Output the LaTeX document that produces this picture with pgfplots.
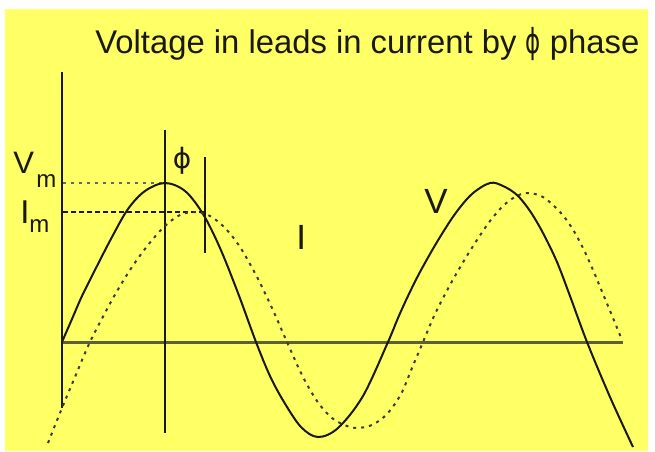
\documentclass[border=0pt]{standalone}
\usepackage{fontspec}
\setmainfont{Liberation Sans}
\newfontfamily\phifont{DejaVu Sans}
\usepackage{pgfplots}
\pgfplotsset{compat=1.18}
\definecolor{bgyellow}{RGB}{255,255,102}
\definecolor{axisol}{RGB}{95,95,55}
\definecolor{curvec}{RGB}{25,25,15}
\definecolor{dotc}{RGB}{60,60,40}
\begin{document}
\begin{tikzpicture}
\begin{axis}[x=0.5pt,y=0.5pt,xmin=0,xmax=655,ymin=0,ymax=451,y dir=reverse,
  hide axis,clip=false]
% white page and yellow panel
\addplot[fill=white,draw=none] coordinates {(0,0) (655,0) (655,451) (0,451)} -- cycle;
\addplot[fill=bgyellow,draw=none] coordinates {(5,9) (648,9) (648,451) (5,451)} -- cycle;
% axes
\addplot[axisol,line width=1.4pt] coordinates {(62,342.5) (623,342.5)};
\addplot[curvec,line width=0.9pt] coordinates {(62,72) (62,408)};
\addplot[curvec,line width=0.9pt] coordinates {(165,130) (165,433)};
\addplot[curvec,line width=0.9pt] coordinates {(205,157) (205,253)};
% reference lines
\addplot[gray!80!black,line width=1pt,dash pattern=on 1.5pt off 2.5pt] coordinates {(63,183) (165,183)};
\addplot[curvec,line width=0.8pt,dash pattern=on 2.5pt off 1.5pt] coordinates {(63,212) (205,212)};
% V (solid)
\addplot[curvec,line width=1pt,smooth,tension=0.55] coordinates {
(62,342) (72,319) (82,296) (97,266) (112,237) (128,209) (145,191) (165,183)
(185,191) (203,214) (220,248) (238,293) (256,342) (270,376) (284,402) (301,427)
(318,437) (338,428) (363,396) (388,342) (398,318) (408,296) (420,272) (437,242)
(455,214) (472,194) (490,183) (503,186) (517,195) (530,211) (543,233) (557,262)
(570,296) (587,342) (610,397) (633,447)};
% I (dotted)
\addplot[dotc,line width=1pt,smooth,tension=0.55,dash pattern=on 1.5pt off 2.5pt] coordinates {
(48,443) (62,408) (75,377) (90,342) (112,300) (130,270) (148,245) (165,226)
(180,215) (195,212) (210,216) (225,228) (240,247) (257,277) (272,308) (287,342)
(302,375) (317,401) (332,418) (347,426) (357,428) (372,425) (387,414) (401,394)
(412,368) (423,342) (435,314) (450,285) (465,259) (477,240) (490,221) (503,206)
(515,197) (527,193) (543,197) (560,212) (572,228) (583,248) (593,270) (603,294)
(613,318) (622,340)};
% texts
\node[anchor=base west,inner sep=0,text=curvec,font=\fontsize{16.4}{18}\selectfont] at (axis cs:95,53) {Voltage in leads in current by {\phifont\scalebox{0.7}[1.05]{ϕ}} phase};
\node[anchor=base west,inner sep=0,text=curvec,font=\fontsize{15.5}{17}\selectfont] at (axis cs:13,173) {V};
\node[anchor=base west,inner sep=0,text=curvec,font=\fontsize{12}{13}\selectfont] at (axis cs:36,187) {m};
\node[anchor=base west,inner sep=0,text=curvec,font=\fontsize{16.5}{17}\selectfont] at (axis cs:20,223) {I};
\node[anchor=base west,inner sep=0,text=curvec,font=\fontsize{12}{13}\selectfont] at (axis cs:29,232) {m};
\node[anchor=center,inner sep=0,text=curvec,font=\phifont\fontsize{14}{16}\selectfont] at (axis cs:182,161) {ϕ};
\node[anchor=base west,inner sep=0,text=curvec,font=\fontsize{17.5}{18}\selectfont] at (axis cs:296,249) {I};
\node[anchor=base west,inner sep=0,text=curvec,font=\fontsize{17.5}{18}\selectfont] at (axis cs:424,213) {V};
\end{axis}
\end{tikzpicture}
\end{document}
